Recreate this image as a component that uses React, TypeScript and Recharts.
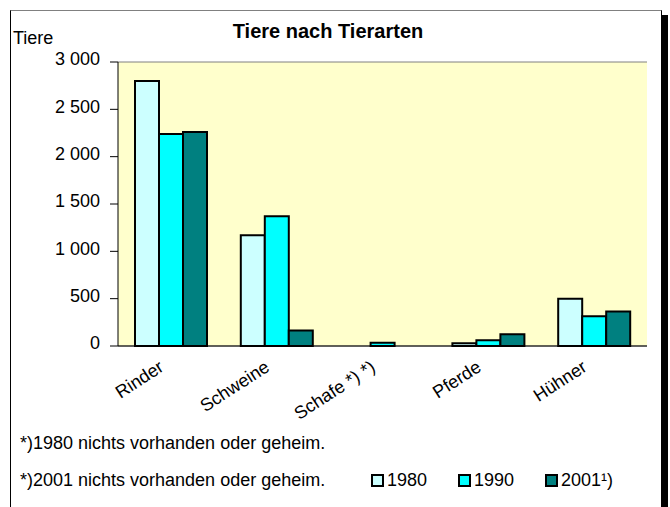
import { Bar, BarChart, CartesianGrid, Legend, XAxis, YAxis } from "recharts";

const categories = ["Rinder", "Schweine", "Schafe *) *)", "Pferde", "Hühner"];
const values1980 = [2800, 1170, 0, 30, 500];
const values1990 = [2240, 1370, 35, 60, 315];
const values2001 = [2260, 165, 0, 125, 365];
const yTicks = [0, 500, 1000, 1500, 2000, 2500, 3000];
const edgeTicks = [0, 1, 2, 3, 4, 5];
const footnotes = [
  "*)1980 nichts vorhanden oder geheim.",
  "*)2001 nichts vorhanden oder geheim.",
];

const data = categories.map((name, i) => ({
  name,
  y1980: values1980[i],
  y1990: values1990[i],
  y2001: values2001[i],
}));

const FONT = "'Liberation Sans', Arial, sans-serif";

const fmt = (v: number) => String(v).replace(/\B(?=(\d{3})+(?!\d))/g, " ");

const CategoryTick = ({ x, y, payload }: any) => (
  <text
    x={x - 6}
    y={y + 16}
    transform={`rotate(-33, ${x - 6}, ${y + 16})`}
    textAnchor="end"
    fontSize={18}
    fill="#000"
    fontFamily={FONT}
  >
    {payload.value}
  </text>
);

const LegendBox = ({ payload }: any) => (
  <div style={{ position: "relative", height: 91, fontFamily: FONT, fontSize: 18, lineHeight: 1, color: "#000" }}>
    <div style={{ position: "absolute", left: 20, top: 18 }}>{footnotes[0]}</div>
    <div style={{ position: "absolute", left: 20, top: 55 }}>{footnotes[1]}</div>
    <div style={{ position: "absolute", left: 371, top: 55, display: "flex" }}>
      {(payload || []).map((p: any) => (
        <div key={p.value} style={{ display: "flex", alignItems: "center", gap: 3, width: 87 }}>
          <span
            style={{
              display: "inline-block",
              width: 9,
              height: 9,
              background: p.color,
              border: "2px solid #000",
            }}
          />
          <span>{p.value}</span>
        </div>
      ))}
    </div>
  </div>
);

export default function App() {
  return (
    <div
      style={{
        position: "absolute",
        left: 0,
        top: 0,
        width: 670,
        height: 507,
        overflow: "hidden",
        background: "#fff",
      }}
    >
      <div
        style={{
          position: "absolute",
          left: 10,
          top: 10,
          width: 650,
          height: 520,
          borderTop: "1px solid #808080",
          borderLeft: "1px solid #000",
          borderRight: "1px solid #000",
          boxShadow: "6px 5px 0 #000",
          background: "#fff",
        }}
      />
      <div
        style={{
          position: "absolute",
          left: 0,
          width: 656,
          top: 21,
          textAlign: "center",
          fontFamily: FONT,
          fontWeight: "bold",
          fontSize: 20,
          lineHeight: 1,
        }}
      >
        Tiere nach Tierarten
      </div>
      <div style={{ position: "absolute", left: 13, top: 29, fontFamily: FONT, fontSize: 18, lineHeight: 1 }}>
        Tiere
      </div>
      <div style={{ position: "absolute", left: 0, top: 0 }}>
        <BarChart
          width={670}
          height={507}
          data={data}
          margin={{ top: 62, right: 23, bottom: 0, left: 10 }}
          barGap={0}
          barCategoryGap={17}
        >
          <CartesianGrid
            vertical={false}
            stroke="#808080"
            fill="#FFFFCC"
            fillOpacity={1}
          />
          <XAxis
            xAxisId="edges"
            type="number"
            domain={[0, 5]}
            ticks={edgeTicks}
            tick={false}
            tickLine={{ stroke: "#000" }}
            tickSize={6}
            axisLine={false}
            height={0}
          />
          <XAxis
            xAxisId="cat"
            dataKey="name"
            interval={0}
            tickLine={false}
            axisLine={{ stroke: "#000", strokeWidth: 1 }}
            tick={<CategoryTick />}
            height={70}
          />
          <YAxis
            yAxisId="left"
            domain={[0, 3000]}
            ticks={yTicks}
            tickFormatter={fmt}
            tickSize={8}
            tickMargin={10}
            tickLine={{ stroke: "#000" }}
            axisLine={{ stroke: "#000", strokeWidth: 1 }}
            tick={{ fill: "#000", fontSize: 18, fontFamily: FONT, dy: -3 }}
            width={108}
          />
          <YAxis
            yAxisId="right"
            orientation="right"
            domain={[0, 3000]}
            tick={false}
            tickLine={false}
            axisLine={{ stroke: "#808080", strokeWidth: 2 }}
            width={0}
          />
          <Legend
            verticalAlign="bottom"
            content={<LegendBox />}
            wrapperStyle={{ left: 0, width: 670, height: 91, bottom: 0 }}
          />
          <Bar
            xAxisId="cat"
            yAxisId="left"
            dataKey="y1980"
            name="1980"
            fill="#CCFFFF"
            stroke="#000"
            strokeWidth={2}
            barSize={24}
            isAnimationActive={false}
          />
          <Bar
            xAxisId="cat"
            yAxisId="left"
            dataKey="y1990"
            name="1990"
            fill="#00FFFF"
            stroke="#000"
            strokeWidth={2}
            barSize={24}
            isAnimationActive={false}
          />
          <Bar
            xAxisId="cat"
            yAxisId="left"
            dataKey="y2001"
            name="2001¹)"
            fill="#008080"
            stroke="#000"
            strokeWidth={2}
            barSize={24}
            isAnimationActive={false}
          />
        </BarChart>
      </div>
    </div>
  );
}
